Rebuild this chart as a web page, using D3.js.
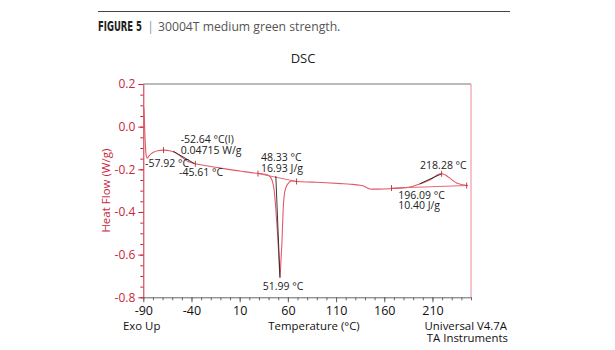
<!DOCTYPE html>
<html>
<head>
<meta charset="utf-8">
<script src="https://cdn.jsdelivr.net/npm/d3@7"></script>
<style>
  body { margin: 0; background: #fff; }
  text { font-family: "Open Sans", "Noto Sans", sans-serif; }
</style>
</head>
<body>
<script>
// ---- data ----
var temperature = [-89.5, -89.0, -88.5, -87.8, -87.0, -86.0, -84.5, -82, -79, -75, -70, -65, -60, -56, -52, -48, -44,
  -40, -35, -25, -15, -5, 5, 15, 25, 33, 38, 41, 43.5, 45.5, 47.4, 48.8, 49.8, 50.9, 51.8, 52.8, 53.9, 54.6, 55.2,
  56.3, 58, 60, 63.9, 69, 85, 100, 115, 125, 135, 139, 142, 145, 150, 160, 170, 180, 188, 196, 203, 208, 213, 217,
  220, 223, 227, 231, 235, 239, 243, 247];
var heatFlow = [0.09, 0.05, -0.02, -0.09, -0.135, -0.148, -0.140, -0.128, -0.119, -0.113, -0.110, -0.111, -0.116,
  -0.124, -0.137, -0.150, -0.162, -0.169, -0.175, -0.183, -0.19, -0.198, -0.205, -0.211, -0.217, -0.221, -0.225,
  -0.232, -0.25, -0.29, -0.38, -0.47, -0.54, -0.63, -0.708, -0.63, -0.535, -0.45, -0.38, -0.32, -0.285, -0.268,
  -0.255, -0.257, -0.26, -0.263, -0.267, -0.27, -0.275, -0.279, -0.287, -0.292, -0.293, -0.292, -0.29, -0.287,
  -0.282, -0.27, -0.258, -0.248, -0.232, -0.222, -0.221, -0.226, -0.238, -0.252, -0.264, -0.27, -0.274, -0.276];

var xTicks = [-90, -40, 10, 60, 110, 160, 210];
var yTicks = [-0.8, -0.6, -0.4, -0.2, 0.0, 0.2];

// marker ticks on the curve [temperature, heat flow]
var markers = [[-69, -0.110], [-36, -0.174], [29, -0.22], [69, -0.257], [167.5, -0.288], [245.5, -0.276], [219.5, -0.221]];
// black construction lines
var constructionLines = [
  [[-59, -0.115], [-37, -0.173]],
  [[47.5, -0.232], [51.8, -0.708]],
  [[196.7, -0.268], [219.5, -0.221]]
];
// integration baselines
var baselines = [
  [[29, -0.22], [69, -0.257]],
  [[167.5, -0.288], [245.5, -0.276]]
];
// annotation labels [temperature, heat flow, lines]
var labels = [
  [-51.2, -0.077, ["-52.64 °C(I)", "0.04715 W/g"]],
  [-88.2, -0.189, ["-57.92 °C"]],
  [-52.9, -0.231, ["-45.61 °C"]],
  [32.2, -0.161, ["48.33 °C", "16.93 J/g"]],
  [34, -0.766, ["51.99 °C"]],
  [197.2, -0.198, ["218.28 °C"]],
  [174.4, -0.339, ["196.09 °C", "10.40 J/g"]]
];

var W = 615, H = 350;
var red = "#c8283c", curveRed = "#e05a68";

var svg = d3.select("body").append("svg")
  .attr("width", W)
  .attr("height", H);

var x = d3.scaleLinear().domain([-90, 250]).range([143.3, 471]);
var y = d3.scaleLinear().domain([-0.8, 0.2]).range([297.3, 84]);

// header
svg.append("line")
  .attr("x1", 98).attr("x2", 510).attr("y1", 11.5).attr("y2", 11.5)
  .attr("stroke", "#444").attr("stroke-width", 1);
svg.append("text").attr("x", 98).attr("y", 31)
  .style("font-family", "'DejaVu Sans Condensed', 'Liberation Sans Narrow', sans-serif")
  .style("font-weight", "bold").style("font-size", "13.5px").attr("fill", "#222")
  .attr("textLength", 44).attr("lengthAdjust", "spacingAndGlyphs")
  .text("FIGURE 5");
svg.append("text").attr("x", 150.5).attr("y", 31).attr("text-anchor", "middle")
  .style("font-size", "13px").attr("fill", "#999").text("|");
svg.append("text").attr("x", 158).attr("y", 31)
  .style("font-size", "12.2px").attr("fill", "#555").text("30004T medium green strength.");

svg.append("text")
  .attr("x", 303).attr("y", 63)
  .attr("text-anchor", "middle")
  .style("font-size", "13px").attr("fill", "#222")
  .text("DSC");

// frame: top gray, right red
svg.append("line")
  .attr("x1", x(-90)).attr("x2", x(250)).attr("y1", y(0.2)).attr("y2", y(0.2))
  .attr("stroke", "#777");
svg.append("line")
  .attr("x1", x(250)).attr("x2", x(250)).attr("y1", y(0.2)).attr("y2", y(-0.8))
  .attr("stroke", "#e98a94");

// bottom axis with minor ticks
var xMinor = d3.range(-90, 251, 10);
svg.append("g")
  .attr("transform", "translate(0," + y(-0.8) + ")")
  .call(d3.axisBottom(x).tickValues(xMinor).tickSize(3).tickFormat(""))
  .call(g => g.select(".domain").remove())
  .selectAll("line").attr("stroke", "#666");
var xAxis = svg.append("g")
  .attr("transform", "translate(0," + y(-0.8) + ")")
  .call(d3.axisBottom(x).tickValues(xTicks).tickSize(5).tickSizeOuter(0).tickPadding(4).tickFormat(d => String(d)));
xAxis.select(".domain").attr("stroke", "#666");
xAxis.selectAll("line").attr("stroke", "#666");
xAxis.selectAll("text").style("font-size", "12.5px").attr("fill", "#111").style("font-family", "'Open Sans', sans-serif");

// left axis with minor ticks
var yMinor = d3.range(-0.8, 0.2001, 0.05);
svg.append("g")
  .attr("transform", "translate(" + x(-90) + ",0)")
  .call(d3.axisLeft(y).tickValues(yMinor).tickSize(3).tickFormat(""))
  .call(g => g.select(".domain").remove())
  .selectAll("line").attr("stroke", red);
var yAxis = svg.append("g")
  .attr("transform", "translate(" + x(-90) + ",0)")
  .call(d3.axisLeft(y).tickValues(yTicks).tickSize(5).tickSizeOuter(0).tickPadding(3)
    .tickFormat(d => d.toFixed(1)));
yAxis.select(".domain").attr("stroke", red);
yAxis.selectAll("line").attr("stroke", red);
yAxis.selectAll("text").style("font-size", "12px").attr("fill", red).style("font-family", "'Open Sans', sans-serif");

svg.append("text")
  .attr("transform", "translate(110," + ((y(0.2) + y(-0.8)) / 2) + ") rotate(-90)")
  .attr("text-anchor", "middle")
  .style("font-size", "11.5px").attr("fill", red)
  .text("Heat Flow (W/g)");

// bottom texts
svg.append("text").attr("x", 123).attr("y", 330).style("font-size", "11.4px").attr("fill", "#111").text("Exo Up");
svg.append("text").attr("x", 314).attr("y", 330).attr("text-anchor", "middle")
  .style("font-size", "11.4px").attr("fill", "#111").text("Temperature (°C)");
svg.append("text").attr("x", 507).attr("y", 330).attr("text-anchor", "end")
  .style("font-size", "11.4px").attr("fill", "#111").text("Universal V4.7A");
svg.append("text").attr("x", 508).attr("y", 342).attr("text-anchor", "end")
  .style("font-size", "11.4px").attr("fill", "#111").text("TA Instruments");

// curve
var pts = temperature.map((t, i) => [t, heatFlow[i]]);
var line = d3.line().x(d => x(d[0])).y(d => y(d[1])).curve(d3.curveMonotoneX);
svg.append("path")
  .datum(pts)
  .attr("d", line)
  .attr("fill", "none")
  .attr("stroke", curveRed)
  .attr("stroke-width", 1.1);

// integration baselines
baselines.forEach(b => {
  svg.append("line")
    .attr("x1", x(b[0][0])).attr("y1", y(b[0][1]))
    .attr("x2", x(b[1][0])).attr("y2", y(b[1][1]))
    .attr("stroke", curveRed).attr("stroke-width", 0.9);
});

// construction lines
constructionLines.forEach(c => {
  svg.append("line")
    .attr("x1", x(c[0][0])).attr("y1", y(c[0][1]))
    .attr("x2", x(c[1][0])).attr("y2", y(c[1][1]))
    .attr("stroke", "#222").attr("stroke-width", 0.9);
});

// marker ticks
markers.forEach(m => {
  svg.append("line")
    .attr("x1", x(m[0])).attr("x2", x(m[0]))
    .attr("y1", y(m[1]) - 3).attr("y2", y(m[1]) + 3)
    .attr("stroke", "#b03040").attr("stroke-width", 0.9);
});

// annotation labels
labels.forEach(l => {
  var t = svg.append("text")
    .attr("x", x(l[0])).attr("y", y(l[1]))
    .style("font-size", "10.5px").attr("fill", "#222");
  l[2].forEach((s, i) => {
    t.append("tspan").attr("x", x(l[0])).attr("dy", i ? 10.5 : 0).text(s);
  });
});
</script>
</body>
</html>
